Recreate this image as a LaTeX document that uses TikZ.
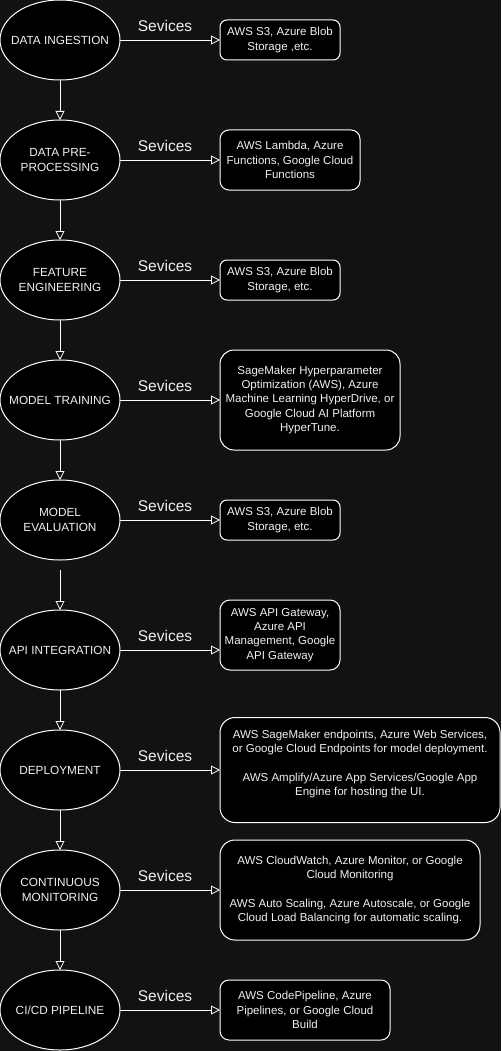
\documentclass[tikz,border=0pt]{standalone}
\usepackage{fontspec}
\setmainfont{Liberation Sans}
\usetikzlibrary{positioning,shapes.geometric,arrows.meta}
\definecolor{bg}{HTML}{121212}
\definecolor{fg}{HTML}{F0F0F0}
\begin{document}
\begin{tikzpicture}[x=1pt, y=1pt, node distance={40pt},
  stage/.style = {draw=white, fill=black, ellipse, line width=1pt, outer sep=0pt, minimum width=120pt, minimum height=80pt, inner xsep=-25pt, inner ysep=0pt, align=center, text=fg, font=\fontsize{11.8}{14.5}\selectfont},
  svcbox/.style = {draw=white, fill=black, line width=1pt, outer sep=0pt, rounded corners=#1, inner sep=0pt, align=center, text=fg, font=\fontsize{11.5}{14.3}\selectfont},
  svcbox/.default = 7pt,
  arr/.style = {draw=white, line width=0.8pt, -{Triangle[open, length=9pt, width=9pt]}},
  lbl/.style = {text=fg, inner sep=0pt, font=\fontsize{15.5}{18}\selectfont}]
\fill[bg] (0,0) rectangle (501,-1051);
\useasboundingbox (0,0) rectangle (501,-1051);

\node[stage] (ingest) at (60,-40) {DATA INGESTION};
\node[stage] (prep) [below=of ingest] {DATA PRE-\\PROCESSING};
\node[stage] (feat) [below=of prep] {FEATURE\\ENGINEERING};
\node[stage] (train) [below=of feat] {MODEL TRAINING};
\node[stage] (eval) [below=of train] {MODEL\\EVALUATION};
\node[stage] (api) [below=50pt of eval] {API INTEGRATION};
\node[stage] (deploy) [below=of api] {DEPLOYMENT};
\node[stage] (monitor) [below=of deploy] {CONTINUOUS\\MONITORING};
\node[stage] (cicd) [below=of monitor] {CI/CD PIPELINE};

\node[svcbox, minimum width=120pt, minimum height=40pt, right=100pt of ingest] (ingestsvc) {AWS S3, Azure Blob\\Storage ,etc.};
\node[svcbox=9pt, minimum width=140pt, minimum height=60pt, right=100pt of prep] (prepsvc) {AWS Lambda, Azure\\Functions, Google Cloud\\Functions};
\node[svcbox, minimum width=120pt, minimum height=40pt, right=100pt of feat] (featsvc) {AWS S3, Azure Blob\\Storage, etc.};
\node[svcbox=14pt, minimum width=180pt, minimum height=100pt, right=100pt of train] (trainsvc) {SageMaker Hyperparameter\\Optimization (AWS), Azure\\Machine Learning HyperDrive, or\\Google Cloud AI Platform\\HyperTune.};
\node[svcbox, minimum width=120pt, minimum height=40pt, right=100pt of eval] (evalsvc) {AWS S3, Azure Blob\\Storage, etc.};
\node[svcbox=10pt, minimum width=120pt, minimum height=70pt, right=100pt of api, yshift=15pt] (apisvc) {AWS API Gateway,\\Azure API\\Management, Google\\API Gateway};
\node[svcbox=15pt, minimum width=280pt, minimum height=105pt, right=100pt of deploy] (deploysvc) {AWS SageMaker endpoints, Azure Web Services,\\or Google Cloud Endpoints for model deployment.\\[14.3pt]AWS Amplify/Azure App Services/Google App\\Engine for hosting the UI.\\ \mbox{}};
\node[svcbox=15pt, minimum width=260pt, minimum height=100pt, right=100pt of monitor] (monitorsvc) {AWS CloudWatch, Azure Monitor, or Google\\Cloud Monitoring\\[14.3pt]AWS Auto Scaling, Azure Autoscale, or Google\\Cloud Load Balancing for automatic scaling.};
\node[svcbox=9pt, minimum width=170pt, minimum height=60pt, right=100pt of cicd] (cicdsvc) {AWS CodePipeline, Azure\\Pipelines, or Google Cloud\\Build};

% flow
\draw[arr] (ingest) -- (prep);
\draw[arr] (prep) -- (feat);
\draw[arr] (feat) -- (train);
\draw[arr] (train) -- (eval);
\draw[arr, shorten <=10pt] (eval) -- (api);
\draw[arr] (api) -- (deploy);
\draw[arr] (deploy) -- (monitor);
\draw[arr] (monitor) -- (cicd);

% services
\draw[arr] (ingest) -- node[lbl, above=8pt, pos=0.45] (ingestlbl) {Sevices} (ingestsvc);
\draw[arr] (prep) -- node[lbl, above=8pt, pos=0.45] (preplbl) {Sevices} (prepsvc);
\draw[arr] (feat) -- node[lbl, above=8pt, pos=0.45] (featlbl) {Sevices} (featsvc);
\draw[arr] (train) -- node[lbl, above=8pt, pos=0.45] (trainlbl) {Sevices} (trainsvc);
\draw[arr] (eval) -- node[lbl, above=8pt, pos=0.45] (evallbl) {Sevices} (evalsvc);
\draw[arr] (api.east) -- node[lbl, above=8pt, pos=0.45] (apilbl) {Sevices} (api.east -| apisvc.west);
\draw[arr] (deploy) -- node[lbl, above=8pt, pos=0.45] (deploylbl) {Sevices} (deploysvc);
\draw[arr] (monitor) -- node[lbl, above=8pt, pos=0.45] (monitorlbl) {Sevices} (monitorsvc);
\draw[arr] (cicd) -- node[lbl, above=8pt, pos=0.45] (cicdlbl) {Sevices} (cicdsvc);
\end{tikzpicture}
\end{document}
